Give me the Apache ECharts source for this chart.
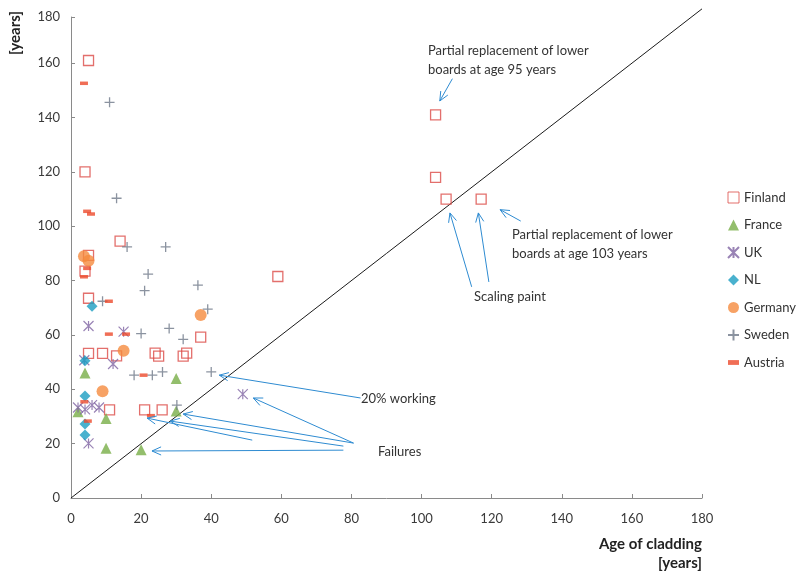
<!DOCTYPE html>
<html>
<head>
<meta charset="utf-8">
<script src="https://cdn.jsdelivr.net/npm/echarts@6/dist/echarts.min.js"></script>
<style>html,body{margin:0;padding:0;background:#fff}#c{width:798px;height:573px}</style>
</head>
<body>
<div id="c"></div>
<script>
// ---- data (x = age of cladding, y = years) ----
const xTickLabels = ['0','20','40','60','80','100','120','140','160','180'];
const yTickLabels = ['0','20','40','60','80','100','120','140','160','180'];
const finland = [[5,161],[104,141],[104,118],[107,110],[117,110],[4,120],[14,94.5],[5,89.3],[4,83.5],[59,81.5],[5,73.5],[5,53.2],[9,53.2],[13,52.3],[24,53.3],[25,52.2],[32,52.2],[33,53.3],[37,59.2],[11,32.4],[21,32.4],[26,32.4]];
const france = [[4,46],[2,31.7],[10,29.3],[10,18.3],[20,17.8],[30,44],[30,32]];
const uk = [[5,63.3],[15,61.2],[12,49.3],[3.8,50.7],[2,33.3],[4,32.6],[6,34.2],[8,33.3],[5,20.1],[49,38.2]];
const nl = [[6,70.6],[4,50.5],[4,37.5],[4,27.2],[4,23.2]];
const germany = [[3.7,89],[5,87.3],[15,54.2],[9,39.3],[37,67.3]];
const sweden = [[11,145.6],[13,110.3],[16,92.4],[27,92.4],[22,82.4],[21,76.3],[9,72.4],[36.2,78.3],[39,69.5],[20,60.5],[28,62.4],[32,58.4],[18,45.2],[23.2,45.2],[26.1,46.4],[40,46.4],[30.2,34.2]];
const austria = [[3.7,152.6],[4.6,105.5],[5.7,104.5],[4.6,84.5],[3.7,81.4],[10.8,72.4],[10.8,60.3],[15.7,60.3],[20.7,45.2],[3.8,35.4],[4.8,28.3],[22.8,30.3]];
const diagonal = [[0,0],[180,180]];
// annotation arrows: [tailX, tailY, headX, headY] in data units
const arrows = [
  [108.8,154.3,105.2,146.1],
  [128.3,101.9,122.4,106.1],
  [114.3,77.7,108.1,104.9],
  [119.2,79.5,116.2,104.9],
  [82.6,36.8,42.3,45.2],
  [80.6,20.2,52,36.8],
  [80.6,20.2,32,30.9],
  [77.7,19.1,28.3,28.3],
  [51.7,21.3,21.7,29.4],
  [77.7,17.6,23.1,17.3]
];

const FONT = 'Lato';
const chart = echarts.init(document.getElementById('c'), null, {renderer:'canvas'});
const arrowColor = '#2e8bd1';

function arrowItem(params, api){
  const p1 = api.coord([api.value(0), api.value(1)]);
  const p2 = api.coord([api.value(2), api.value(3)]);
  const ang = Math.atan2(p1[1]-p2[1], p1[0]-p2[0]);
  const L = 10, a = 0.42;
  const h1 = [p2[0] + L*Math.cos(ang+a), p2[1] + L*Math.sin(ang+a)];
  const h2 = [p2[0] + L*Math.cos(ang-a), p2[1] + L*Math.sin(ang-a)];
  return {type:'group', children:[
    {type:'polyline', shape:{points:[p1,p2]}, style:{stroke:arrowColor, lineWidth:1, fill:null}},
    {type:'polyline', shape:{points:[h1,p2,h2]}, style:{stroke:arrowColor, lineWidth:1, fill:null}}
  ]};
}

const ukPath = 'path://M0,0L10,10M10,0L0,10M5,0L5,10';
const plusPath = 'path://M0,5L10,5M5,0L5,10';

const option = {
  animation:false,
  textStyle:{fontFamily:FONT},
  grid:{left:71, right:96, top:17, bottom:75},
  xAxis:{type:'value', min:0, max:180, interval:20,
    axisLine:{lineStyle:{color:'#8a8a8a'}},
    axisTick:{inside:true, length:4, lineStyle:{color:'#8a8a8a'}},
    splitLine:{show:false},
    axisLabel:{color:'#3a3a3a', fontSize:13, fontFamily:FONT, margin:14,
      formatter:(v,i)=>xTickLabels[i]}
  },
  yAxis:{type:'value', min:0, max:177, interval:20,
    axisLine:{show:true, lineStyle:{color:'#8a8a8a'}},
    axisTick:{show:true, inside:true, length:4, lineStyle:{color:'#8a8a8a'}},
    splitLine:{show:false},
    axisLabel:{color:'#3a3a3a', fontSize:13, fontFamily:FONT, margin:11,
      formatter:(v,i)=>yTickLabels[i]}
  },
  legend:{orient:'vertical', left:722, top:186, itemGap:14.5, itemWidth:11, itemHeight:11,
    textStyle:{color:'#333', fontSize:13, fontFamily:FONT},
    data:[
      {name:'Finland', itemStyle:{borderWidth:1}},{name:'France'},{name:'UK'},{name:'NL'},{name:'Germany'},{name:'Sweden'},
      {name:'Austria', icon:'path://M0,0h8v3.5h-8z'}
    ]},
  graphic:[
    {type:'text', x:15, y:33, rotation:Math.PI/2, style:{text:'[years]', font:'bold 15px '+FONT, fill:'#222', align:'center', verticalAlign:'middle'}},
    {type:'text', x:702, y:535, style:{text:'Age of cladding\n[years]', font:'bold 15px '+FONT, fill:'#222', align:'right', lineHeight:19}},
    {type:'text', x:428, y:41, style:{text:'Partial replacement of lower\nboards at age 95 years', font:'13px '+FONT, fill:'#333', lineHeight:19}},
    {type:'text', x:512, y:225, style:{text:'Partial replacement of lower\nboards at age 103 years', font:'13px '+FONT, fill:'#333', lineHeight:19}},
    {type:'text', x:474, y:290, style:{text:'Scaling paint', font:'13px '+FONT, fill:'#333'}},
    {type:'text', x:361, y:392, style:{text:'20% working', font:'13px '+FONT, fill:'#333'}},
    {type:'text', x:378, y:445, style:{text:'Failures', font:'13px '+FONT, fill:'#333'}}
  ],
  series:[
    {type:'line', data:diagonal, symbol:'none', clip:false, silent:true,
      lineStyle:{color:'#1a1a1a', width:1}, z:1},
    {name:'Finland', type:'scatter', data:finland, symbol:'rect', symbolSize:10,
      itemStyle:{color:'rgba(255,255,255,0)', borderColor:'#dc4b47', borderWidth:1.3}},
    {name:'France', type:'scatter', data:france, symbol:'triangle', symbolSize:11,
      itemStyle:{color:'#78ae47'}},
    {name:'UK', type:'scatter', data:uk, symbol:ukPath, symbolSize:10,
      itemStyle:{color:'#8064a2', borderColor:'#8064a2', borderWidth:1.2}},
    {name:'NL', type:'scatter', data:nl, symbol:'diamond', symbolSize:11,
      itemStyle:{color:'#1b9ec2'}},
    {name:'Germany', type:'scatter', data:germany, symbol:'circle', symbolSize:12,
      itemStyle:{color:'#f58b3f'}},
    {name:'Sweden', type:'scatter', data:sweden, symbol:plusPath, symbolSize:10,
      itemStyle:{color:'#6e7888', borderColor:'#6e7888', borderWidth:1.3}},
    {name:'Austria', type:'scatter', data:austria, symbol:'rect', symbolSize:[8,3.5],
      itemStyle:{color:'#ec4a2c'}},
    {type:'custom', data:arrows, renderItem:arrowItem, silent:true, clip:false,
      encode:{x:[0,2], y:[1,3]}, z:5}
  ]
};
chart.setOption(option);
</script>
</body>
</html>
